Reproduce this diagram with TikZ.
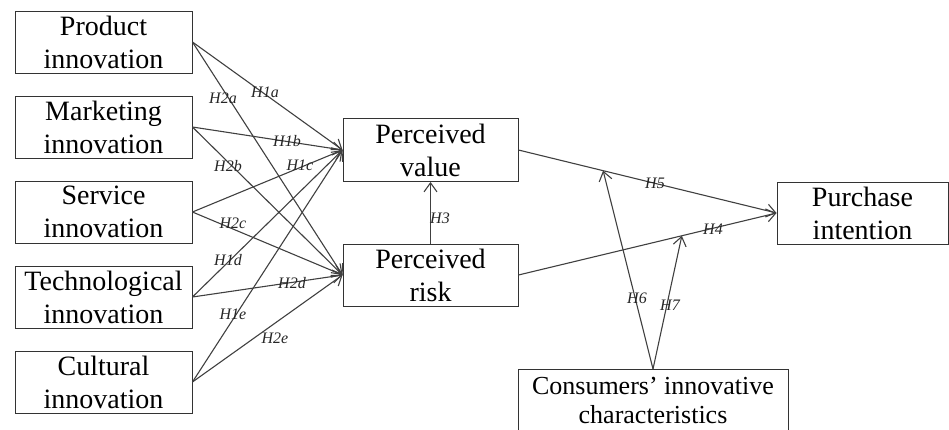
\documentclass[tikz,border=0pt]{standalone}
\usepackage{fontspec}
\setmainfont{Liberation Serif}
\usetikzlibrary{arrows.meta,calc}
\begin{document}
\begin{tikzpicture}[x=1pt,y=-1pt,
  box/.style={draw=black!80, line width=0.9pt, fill=white, align=center,
    inner sep=0pt, font=\fontsize{28}{33}\selectfont},
  link/.style={draw=black!75, line width=1.1pt,
    -{Straight Barb[length=9pt,width=13pt,line width=1.1pt]}},
  hyp/.style={font=\itshape\fontsize{16}{18}\selectfont, inner sep=0pt, text=black!85}]
\useasboundingbox (0,0) rectangle (949,429);

% determinants of perceived value and risk
\node[box, minimum width=177pt, minimum height=62pt] (prod) at (103.5,42) {Product\\innovation};
\node[box, minimum width=177pt, minimum height=62pt] (mark) at (103.5,127) {Marketing\\innovation};
\node[box, minimum width=177pt, minimum height=62pt] (serv) at (103.5,212) {Service\\innovation};
\node[box, minimum width=177pt, minimum height=62pt] (tech) at (103.5,297) {Technological\\innovation};
\node[box, minimum width=177pt, minimum height=62pt] (cult) at (103.5,382) {Cultural\\innovation};

% mediators and outcome
\node[box, minimum width=175pt, minimum height=63pt] (value) at (430.5,150) {Perceived\\value};
\node[box, minimum width=175pt, minimum height=62pt] (risk) at (430.5,275) {Perceived\\risk};
\node[box, minimum width=171pt, minimum height=62pt] (purch) at (862.5,213) {Purchase\\intention};
\node[box, anchor=north, minimum width=270pt, minimum height=62pt, inner ysep=6pt,
  font=\fontsize{26}{29}\selectfont] (cons) at (653,369) {Consumers’ innovative\\characteristics};

% H1: innovation -> perceived value
\foreach \s in {prod,mark,serv,tech,cult}
  \draw[link] (\s.east) -- (value.west);
% H2: innovation -> perceived risk
\foreach \s in {prod,mark,serv,tech,cult}
  \draw[link] (\s.east) -- (risk.west);

\draw[link] (risk.north) -- (value.south);
\draw[link] (value.east) -- (purch.west);
\draw[link] (risk.east) -- (purch.west);

% moderation by consumer innovativeness
\coordinate (m6) at ($(value.east)!0.328!(purch.west)$);
\coordinate (m7) at ($(risk.east)!0.633!(purch.west)$);
\draw[link] (cons.north) -- (m6);
\draw[link] (cons.north) -- (m7);

% hypothesis labels
\node[hyp] (l1a) at (265,92) {H1a};
\node[hyp] (l2a) at (223,98) {H2a};
\node[hyp] (l1b) at (287,141) {H1b};
\node[hyp] (l2b) at (228,166) {H2b};
\node[hyp] (l1c) at (300,165) {H1c};
\node[hyp] (l2c) at (233,223) {H2c};
\node[hyp] (l1d) at (228,260) {H1d};
\node[hyp] (l2d) at (292,283) {H2d};
\node[hyp] (l1e) at (233,314) {H1e};
\node[hyp] (l2e) at (275,338) {H2e};
\node[hyp] (l3) at (440,218) {H3};
\node[hyp] (l5) at (655,183) {H5};
\node[hyp] (l4) at (713,229) {H4};
\node[hyp] (l6) at (637,298) {H6};
\node[hyp] (l7) at (670,305) {H7};
\end{tikzpicture}
\end{document}
